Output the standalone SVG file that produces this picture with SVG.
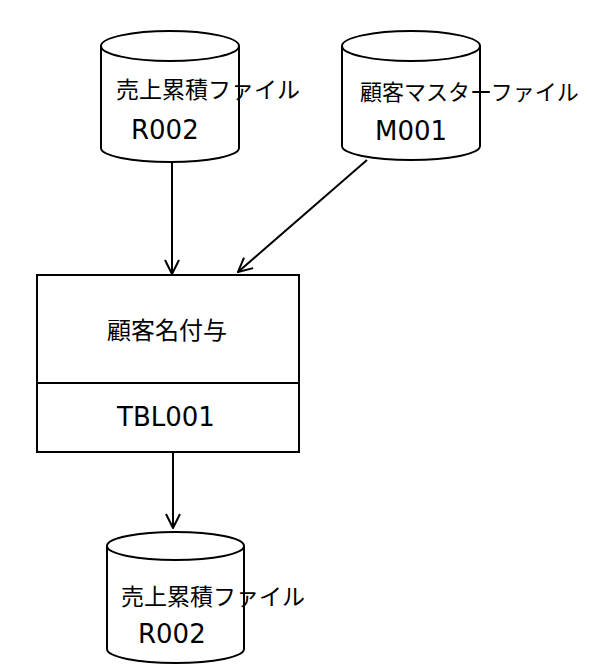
<svg xmlns="http://www.w3.org/2000/svg" width="590" height="671" viewBox="0 0 590 671">
<defs>
<marker id="arr" viewBox="0 0 16 16" refX="15" refY="8" markerWidth="16" markerHeight="16" markerUnits="userSpaceOnUse" orient="auto">
<path d="M1,1 L15,8 L1,15" fill="none" stroke="#000" stroke-width="2"/>
</marker>
</defs>
<style>
.s{fill:#fff;stroke:#000;stroke-width:2}
.t{font-family:"Noto Sans CJK JP","Noto Sans",sans-serif;font-size:23px;fill:#000}
.l{font-family:"DejaVu Sans","Noto Sans",sans-serif;font-size:26px;fill:#000}
.c{fill:none;stroke:#000;stroke-width:2}
</style>
<rect width="590" height="671" fill="#fff"/>
<g id="uriage1">
<path class="s" d="M101,46 A69,15 0 0 1 239,46 L239,148 A69,14 0 0 1 101,148 Z"/>
<path class="c" d="M101,46 A69,15 0 0 0 239,46"/>
<text class="t" x="116" y="98">売上累積ファイル</text>
<text class="l" x="131" y="139">R002</text>
</g>
<g id="kokyaku">
<path class="s" d="M342,46 A69,15 0 0 1 480,46 L480,146 A69,14 0 0 1 342,146 Z"/>
<path class="c" d="M342,46 A69,15 0 0 0 480,46"/>
<text class="t" x="360" y="100" style="font-size:22px">顧客マスターファイル</text>
<text class="l" x="375" y="140">M001</text>
</g>
<g id="process">
<rect class="s" x="37" y="275" width="262" height="177"/>
<line class="c" x1="37" y1="383" x2="299" y2="383"/>
<text class="t" x="107" y="339" style="font-size:24px">顧客名付与</text>
<text class="l" x="117" y="426">TBL001</text>
</g>
<g id="uriage2">
<path class="s" d="M107,546 A68.5,14 0 0 1 244,546 L244,649 A68.5,14 0 0 1 107,649 Z"/>
<path class="c" d="M107,546 A68.5,14 0 0 0 244,546"/>
<text class="t" x="121" y="605">売上累積ファイル</text>
<text class="l" x="138" y="643">R002</text>
</g>
<g id="connectors">
<line class="c" x1="172" y1="162" x2="172" y2="274" marker-end="url(#arr)"/>
<line class="c" x1="367" y1="160" x2="238" y2="272" marker-end="url(#arr)"/>
<line class="c" x1="173" y1="452" x2="173" y2="528" marker-end="url(#arr)"/>
</g>
</svg>
